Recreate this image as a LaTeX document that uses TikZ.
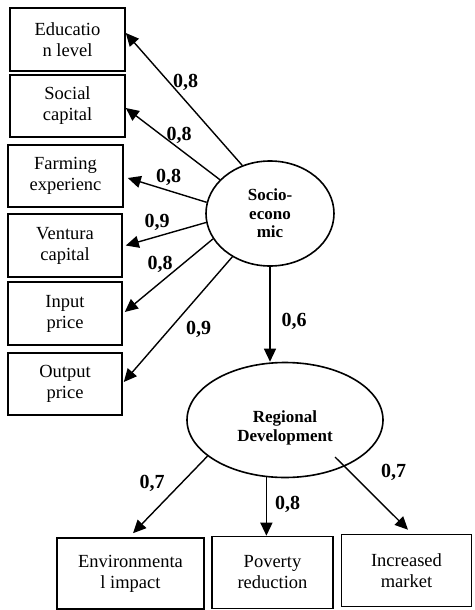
\documentclass[tikz,border=0pt]{standalone}
\usepackage{fontspec}
\setmainfont{Liberation Serif}
\usetikzlibrary{arrows.meta,calc,shapes.geometric}
\begin{document}
\begin{tikzpicture}[x=1pt,y=-1pt,
  box/.style={draw,line width=1.6pt,inner sep=0pt,align=center,
    font=\fontsize{18.5}{21}\selectfont},
  lat/.style={ellipse,draw,line width=1.6pt,inner sep=0pt,align=center,
    font=\bfseries\fontsize{17}{18.5}\selectfont},
  arr/.style={line width=1.4pt,-{Triangle[length=13pt,width=12pt]}},
  coef/.style={font=\bfseries\fontsize{20}{22}\selectfont,inner sep=0pt}
]
\useasboundingbox (0,0) rectangle (474,610);
% observed variables (left)
\node[box,minimum width=115pt,minimum height=63pt] (edu)  at (67.5,39.5) {Educatio\\n level};
\node[box,minimum width=115pt,minimum height=62pt] (soc)  at (67.5,106)  {Social\\capital};
\node[box,minimum width=115pt,minimum height=62pt] (farm) at (65.5,176)  {Farming\\experienc};
\node[box,minimum width=114pt,minimum height=63pt] (vent) at (65,245.5)  {Ventura\\capital};
\node[box,minimum width=114pt,minimum height=63pt] (inp)  at (65,313.5)  {Input\\price};
\node[box,minimum width=114pt,minimum height=62pt] (outp) at (65,384)    {Output\\price};
% observed variables (bottom)
\node[box,minimum width=147pt,minimum height=71pt] (env) at (130.5,573.5) {Environmenta\\l impact};
\node[box,minimum width=121pt,minimum height=72pt] (pov) at (272.5,572.5) {Poverty\\reduction};
\node[box,minimum width=130pt,minimum height=72pt] (inc) at (406.5,570.5) {Increased\\market};
% latent variables
\node[lat,minimum width=128pt,minimum height=105pt] (socio) at (270,213.5) {Socio-\\econo\\mic};
\node[lat,minimum width=196pt,minimum height=115pt] (reg) at (285,420) {};
\node[font=\bfseries\fontsize{17}{18.5}\selectfont,align=center,inner sep=0pt] (regtext) at (285,428) {Regional\\Development};
% paths
\draw[arr] (socio.120) -- ($(edu.east)+(0,-6.5)$);
\draw[arr] (socio.146) -- ($(soc.east)+(0,2)$);
\draw[arr] (socio.170) -- ($(farm.east)+(4,2)$);
\draw[arr] (socio.188.4) -- ($(vent.east)+(3,0)$);
\draw[arr] (socio.204) -- ($(inp.east)+(2,-1.5)$);
\draw[arr] (socio.229.6) -- ($(outp.east)+(1,-2)$);
\draw[arr] (socio.south) -- (socio.south |- reg.north);
\draw[arr] (reg.205.4) -- ($(env.north)+(2.5,-4)$);
\draw[arr] (reg.252.8) -- (reg.252.8 |- pov.north);
\draw[arr] ($(reg.center)+(50,37)$) -- ($(inc.north)+(1.5,-4)$);
% coefficients
\node[coef] (c1) at (185.5,82)  {0,8};
\node[coef] (c2) at (179,135)   {0,8};
\node[coef] (c3) at (168.5,177) {0,8};
\node[coef] (c4) at (157,222)   {0,9};
\node[coef] (c5) at (160,264)   {0,8};
\node[coef] (c6) at (198.5,329) {0,9};
\node[coef] (c7) at (294,321)   {0,6};
\node[coef] (c8) at (152,483)   {0,7};
\node[coef] (c9) at (287.5,504) {0,8};
\node[coef] (c10) at (393.5,472) {0,7};
\end{tikzpicture}
\end{document}
